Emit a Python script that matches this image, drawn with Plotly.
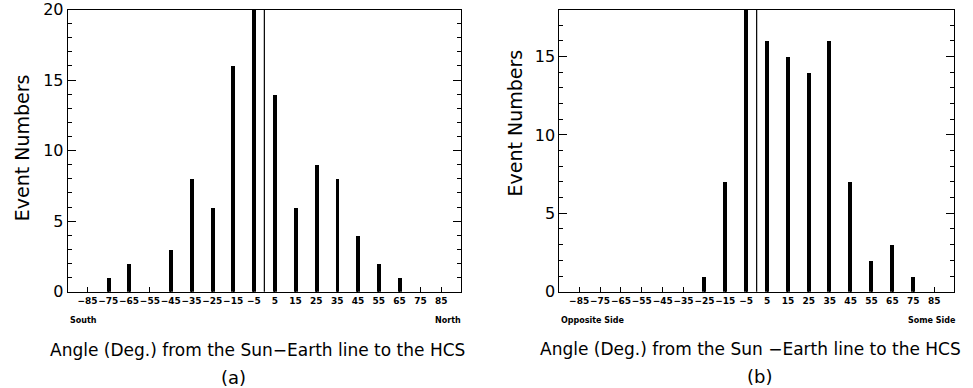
import plotly.graph_objects as go

angles = [-85, -75, -65, -55, -45, -35, -25, -15, -5, 5, 15, 25, 35, 45, 55, 65, 75, 85]
tick_labels = ["\u221285", "\u221275", "\u221265", "\u221255", "\u221245", "\u221235", "\u221225", "\u221215", "\u22125",
               "5", "15", "25", "35", "45", "55", "65", "75", "85"]
counts_a = [0, 1, 2, 0, 3, 8, 6, 16, 20, 14, 6, 9, 8, 4, 2, 1, 0, 0]
counts_b = [0, 0, 0, 0, 0, 0, 1, 7, 18, 16, 15, 14, 16, 7, 2, 3, 1, 0]

W, H = 973, 388
def px(x):
    return x / W
def py(y):
    return (H - y) / H

FONT = "DejaVu Sans"
fig = go.Figure()
fig.add_trace(go.Bar(x=angles, y=counts_a, width=1.9, marker=dict(color="black", line=dict(width=0)),
                     xaxis="x", yaxis="y", showlegend=False, hoverinfo="skip"))
fig.add_trace(go.Bar(x=angles, y=counts_b, width=1.9, marker=dict(color="black", line=dict(width=0)),
                     xaxis="x2", yaxis="y2", showlegend=False, hoverinfo="skip"))

xcommon = dict(range=[-94.5, 94.5], tickvals=angles, ticktext=tick_labels, ticks="inside", ticklen=5,
               tickwidth=1, tickcolor="black", showline=True, linecolor="black", linewidth=1, mirror=True,
               showgrid=False, zeroline=False, tickangle=0, automargin=False,
               tickfont=dict(family=FONT, size=9, color="black", weight="bold"))
ycommon = dict(ticks="inside", ticklen=8, tickwidth=1, tickcolor="black", showline=True, linecolor="black",
               linewidth=1, mirror="ticks", showgrid=False, zeroline=False, dtick=5, automargin=False,
               minor=dict(dtick=1, ticks="inside", ticklen=4, tickcolor="black", tickwidth=1),
               tickfont=dict(family=FONT, size=16, color="black"))

fig.update_layout(
    width=W, height=H, margin=dict(l=0, r=0, t=0, b=0, pad=0, autoexpand=False),
    paper_bgcolor="white", plot_bgcolor="white", bargap=0,
    xaxis=dict(domain=[px(67.7), px(461)], anchor="y", **xcommon),
    yaxis=dict(domain=[py(291.7), py(9.5)], anchor="x", range=[0, 20], **ycommon),
    xaxis2=dict(domain=[px(559.3), px(954)], anchor="y2", **xcommon),
    yaxis2=dict(domain=[py(291.7), py(9.5)], anchor="x2", range=[0, 18], **ycommon),
)

for xr, yr in (("x", "y"), ("x2", "y2")):
    fig.add_shape(type="line", xref=xr, yref=yr + " domain", x0=0, x1=0, y0=0, y1=1,
                  line=dict(color="black", width=1.2))

def ann(text, x, y, size, xanchor="center", angle=0, bold=False):
    fig.add_annotation(text=("<b>%s</b>" % text) if bold else text, x=px(x), y=py(y), xref="paper", yref="paper",
                       xanchor=xanchor, yanchor="middle", showarrow=False, textangle=angle,
                       font=dict(family=FONT, size=size, color="black"))

ann("Event Numbers", 21.7, 147.5, 19, angle=-90)
ann("Event Numbers", 515, 123.5, 19, angle=-90)
ann("South", 67.7, 320, 8, xanchor="left", bold=True)
ann("North", 463, 320, 8, xanchor="right", bold=True)
ann("Opposite Side", 559.3, 320, 8, xanchor="left", bold=True)
ann("Some Side", 958, 320, 8, xanchor="right", bold=True)
ann("Angle (Deg.) from the Sun\u2212Earth line to the HCS", 257.7, 350, 17)
ann("Angle (Deg.) from the Sun \u2212Earth line to the HCS", 750, 349, 17)
ann("(a)", 233, 377, 18)
ann("(b)", 759, 376, 18)

fig.write_html("out.html", config={"displayModeBar": False},
               post_script="document.body.style.margin='0';")
